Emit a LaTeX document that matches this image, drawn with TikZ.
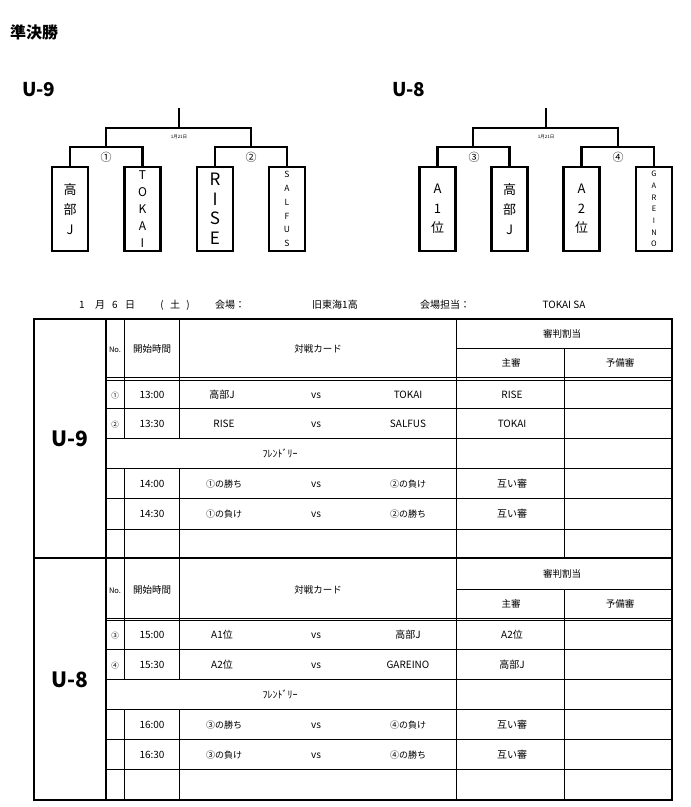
\documentclass[tikz,border=0pt]{standalone}
\usepackage{fontspec}
\setmainfont{Noto Sans CJK JP}
\newcommand{\myfs}[2]{\fontsize{#1}{#2}\selectfont}
\begin{document}
\begin{tikzpicture}[x=1pt,y=-1pt,
  br/.style={line width=2.2pt},
  teambox/.style={draw, line width=2.2pt, minimum width=36pt, minimum height=84pt, inner sep=0pt, align=center},
  tthick/.style={line width=2.2pt},
  tthin/.style={line width=0.8pt},
  cell/.style={font=\myfs{10}{11}, inner sep=0pt, anchor=base},
  cellm/.style={font=\myfs{9}{10}, inner sep=0pt, anchor=base},
  hdr/.style={font=\myfs{9.5}{10}, inner sep=0pt, anchor=base},
  small/.style={font=\myfs{7.5}{8}, inner sep=0pt, anchor=base},
  fr/.style={font=\myfs{10}{11}, inner sep=0pt, anchor=base},
  datetxt/.style={font=\myfs{10}{11}, inner sep=0pt, anchor=base},
  mnum/.style={font=\myfs{11}{12}, inner sep=0pt},
  tiny/.style={font=\myfs{4.5}{5}, inner sep=0pt},
  biglabel/.style={font=\bfseries\myfs{19}{20}, inner sep=0pt, anchor=west},
  tablabel/.style={font=\bfseries\myfs{21}{22}, inner sep=0pt}
]
\useasboundingbox (0,0) rectangle (691,807);

% title
\node[font=\bfseries\myfs{16}{18}, inner sep=0pt, anchor=west] (title) at (10,32) {準決勝};
\node[biglabel] (lu9) at (22,90) {U-9};
\node[biglabel] (lu8) at (392,90) {U-8};

% ---------- U-9 bracket
\node[teambox, font=\myfs{13}{20}] (u9a) at (70,209) {高\\部\\J};
\node[teambox, font=\myfs{12}{16.8}] (u9b) at (142.5,209) {T\\O\\K\\A\\I};
\node[teambox, font=\myfs{17}{19.5}] (u9c) at (215,209) {R\\I\\S\\E};
\node[teambox, font=\myfs{8.5}{13.8}] (u9d) at (287,209) {S\\A\\L\\F\\U\\S};
\coordinate (u9s1) at (106,147);
\coordinate (u9s2) at (251,147);
\coordinate (u9t) at (179,128);
\coordinate (u9top) at (179,108);
\draw[br] (u9a.north) |- (u9s1) -| (u9b.north);
\draw[br] (u9c.north) |- (u9s2) -| (u9d.north);
\draw[br] (u9s1) |- (u9t) -| (u9s2);
\draw[br] (u9t) -- (u9top);
\node[mnum] (u9m1) at (106,157) {①};
\node[mnum] (u9m2) at (251,157) {②};
\node[tiny] (u9date) at (179,137) {1月21日};

% ---------- U-8 bracket
\node[teambox, font=\myfs{13}{19.5}] (u8a) at (437.5,209) {A\\1\\位};
\node[teambox, font=\myfs{13}{20}] (u8b) at (509.5,209) {高\\部\\J};
\node[teambox, font=\myfs{13}{19.5}] (u8c) at (581.5,209) {A\\2\\位};
\node[teambox, font=\myfs{7.5}{11.7}] (u8d) at (654,209) {G\\A\\R\\E\\I\\N\\O};
\coordinate (u8s1) at (473,147);
\coordinate (u8s2) at (618,147);
\coordinate (u8t) at (546,128);
\coordinate (u8top) at (546,108);
\draw[br] (u8a.north) |- (u8s1) -| (u8b.north);
\draw[br] (u8c.north) |- (u8s2) -| (u8d.north);
\draw[br] (u8s1) |- (u8t) -| (u8s2);
\draw[br] (u8t) -- (u8top);
\node[mnum] (u8m3) at (474,157) {③};
\node[mnum] (u8m4) at (618,157) {④};
\node[tiny] (u8date) at (546,137) {1月21日};

% ---------- date line
\node[datetxt] (d1) at (82,308.5) {1};
\node[datetxt] (d2) at (100,308.5) {月};
\node[datetxt] (d3) at (115,308.5) {6};
\node[datetxt] (d4) at (130,308.5) {日};
\node[datetxt] (d5) at (162,308.5) {(};
\node[datetxt] (d6) at (175,308.5) {土};
\node[datetxt] (d7) at (188,308.5) {)};
\node[datetxt] (d8) at (230,308.5) {会場：};
\node[datetxt] (d9) at (335,308.5) {旧東海1高};
\node[datetxt] (d10) at (445,308.5) {会場担当：};
\node[datetxt] (d11) at (564,308.5) {TOKAI SA};

% ---------- table lines
\foreach \T/\S/\H/\Hb/\Fa/\Fb/\B in {319/348/377/380/438/468/558, 558/589/618/620.5/679/709/800}{
  \draw[tthin] (456,\S) -- (672,\S);
  \draw[tthin] (106,\H) -- (672,\H);
  \draw[tthin] (106,\Hb) -- (672,\Hb);
  \draw[tthin] (124,\T) -- (124,\Fa);
  \draw[tthin] (179,\T) -- (179,\Fa);
  \draw[tthin] (124,\Fb) -- (124,\B);
  \draw[tthin] (179,\Fb) -- (179,\B);
  \draw[tthin] (456,\T) -- (456,\B);
  \draw[tthin] (564,\S) -- (564,\B);
}
\foreach \y in {408,438,468,498,529, 649,679,709,739,769}{
  \draw[tthin] (106,\y) -- (672,\y);
}
\draw[line width=1.8pt] (106,319) -- (106,800);
\draw[tthick] (34,558) -- (672,558);
\draw[tthick] (34,319) rectangle (672,800);

% ---------- U-9 table text
\node[tablabel] (tu9) at (70,439) {U-9};
\node[small] (h9no) at (115,352) {No.};
\node[hdr] (h9time) at (152,352) {開始時間};
\node[hdr] (h9card) at (318,352) {対戦カード};
\node[hdr] (h9ref) at (562,337.5) {審判割当};
\node[hdr] (h9main) at (511,366.5) {主審};
\node[hdr] (h9sub) at (620,366.5) {予備審};

\node[small] (r91n) at (115,398) {①};
\node[cell] (r91t) at (152,398) {13:00};
\node[cell] (r91a) at (222,398) {高部J};
\node[cell] (r91v) at (316,398) {vs};
\node[cell] (r91b) at (408,398) {TOKAI};
\node[cell] (r91r) at (512,398) {RISE};

\node[small] (r92n) at (115,427) {②};
\node[cell] (r92t) at (152,427) {13:30};
\node[cell] (r92a) at (224,427) {RISE};
\node[cell] (r92v) at (316,427) {vs};
\node[cell] (r92b) at (408,427) {SALFUS};
\node[cell] (r92r) at (512,427) {TOKAI};

\node[fr] (r9f) at (280,457) {ﾌﾚﾝﾄﾞﾘｰ};

\node[cell] (r93t) at (152,487) {14:00};
\node[cellm] (r93a) at (224,487) {①の勝ち};
\node[cell] (r93v) at (316,487) {vs};
\node[cellm] (r93b) at (408,487) {②の負け};
\node[cell] (r93r) at (512,487) {互い審};

\node[cell] (r94t) at (152,517.5) {14:30};
\node[cellm] (r94a) at (224,517.5) {①の負け};
\node[cell] (r94v) at (316,517.5) {vs};
\node[cellm] (r94b) at (408,517.5) {②の勝ち};
\node[cell] (r94r) at (512,517.5) {互い審};

% ---------- U-8 table text
\node[tablabel] (tu8) at (70,680) {U-8};
\node[small] (h8no) at (115,593) {No.};
\node[hdr] (h8time) at (152,593) {開始時間};
\node[hdr] (h8card) at (318,593) {対戦カード};
\node[hdr] (h8ref) at (562,577.5) {審判割当};
\node[hdr] (h8main) at (511,607.5) {主審};
\node[hdr] (h8sub) at (620,607.5) {予備審};

\node[small] (r81n) at (115,638.5) {③};
\node[cell] (r81t) at (152,638.5) {15:00};
\node[cell] (r81a) at (222,638.5) {A1位};
\node[cell] (r81v) at (316,638.5) {vs};
\node[cell] (r81b) at (408,638.5) {高部J};
\node[cell] (r81r) at (512,638.5) {A2位};

\node[small] (r82n) at (115,668) {④};
\node[cell] (r82t) at (152,668) {15:30};
\node[cell] (r82a) at (222,668) {A2位};
\node[cell] (r82v) at (316,668) {vs};
\node[cell] (r82b) at (408,668) {GAREINO};
\node[cell] (r82r) at (512,668) {高部J};

\node[fr] (r8f) at (280,698) {ﾌﾚﾝﾄﾞﾘｰ};

\node[cell] (r83t) at (152,728) {16:00};
\node[cellm] (r83a) at (224,728) {③の勝ち};
\node[cell] (r83v) at (316,728) {vs};
\node[cellm] (r83b) at (408,728) {④の負け};
\node[cell] (r83r) at (512,728) {互い審};

\node[cell] (r84t) at (152,758) {16:30};
\node[cellm] (r84a) at (224,758) {③の負け};
\node[cell] (r84v) at (316,758) {vs};
\node[cellm] (r84b) at (408,758) {④の勝ち};
\node[cell] (r84r) at (512,758) {互い審};
\end{tikzpicture}
\end{document}
